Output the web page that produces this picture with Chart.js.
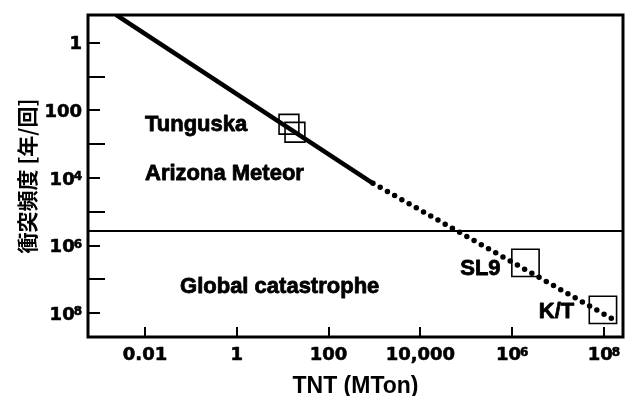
<!DOCTYPE html>
<html>
<head>
<meta charset="utf-8">
<script src="https://cdn.jsdelivr.net/npm/chart.js@4/dist/chart.umd.min.js"></script>
<style>
  body { margin: 0; background: #fff; }
  #wrap { width: 630px; height: 396px; }
</style>
</head>
<body>
<div id="wrap"><canvas id="impactChart" width="630" height="396"></canvas></div>
<script>
// Axis ticks (TNT in MTon, impact interval in years); '^' marks a superscript
const xTickValues = [0.01, 1, 100, 1e4, 1e6, 1e8];
const xTickLabels = ['0.01', '1', '100', '10,000', '10^6', '10^8'];
const yTickValues = [1, 100, 1e4, 1e6, 1e8];
const yTickLabels = ['1', '100', '10^4', '10^6', '10^8'];
const yMinorTicks = [10, 1e3, 1e5, 1e7];

// Power-law curve: solid part and dotted extrapolation
const solidX = [0.00234, 927];
const solidY = [0.148, 14350];
const dottedX = [927, 1.9e8];
const dottedY = [14350, 1.76e8];

// Global catastrophe threshold
const thresholdY = 3.7e5;

// Boxed events
const eventX = [13.7, 18.5, 1.95e6, 9.5e7];
const eventY = [257, 443, 3.25e6, 8.0e7];

// Text notes
const noteTexts = ['Tunguska', 'Arizona Meteor', 'Global catastrophe', 'SL9', 'K/T'];
const noteX = [0.01, 0.01, 0.058, 5.6e5, 2.25e7];
const noteY = [231, 6550, 1.51e7, 4.28e6, 8.04e7];
const noteAlign = ['left', 'left', 'left', 'right', 'right'];

const X_MIN = 5.73e-4, X_MAX = 2.6e8;
const Y_MIN = 0.15, Y_MAX = 5.1e8;

const TICK_FONT = '"DejaVu Sans", sans-serif';
const TICK_SIZE = 18;
const SUP_SIZE = 12;

// filled text with a thin outline so it reads as heavy as the scan
function heavyText(ctx, text, x, y) {
    ctx.fillText(text, x, y);
    ctx.strokeText(text, x, y);
}

// draws "10^6" style labels, baseline at y
function drawTickLabel(ctx, label, x, y, align) {
    const parts = label.split('^');
    ctx.font = 'bold ' + TICK_SIZE + 'px ' + TICK_FONT;
    const baseW = ctx.measureText(parts[0]).width;
    let supW = 0;
    if (parts.length > 1) {
        ctx.font = 'bold ' + SUP_SIZE + 'px ' + TICK_FONT;
        supW = ctx.measureText(parts[1]).width - 1;
    }
    const total = baseW + supW;
    let left = x;
    if (align === 'center') left = x - total / 2;
    if (align === 'right') left = x - total;
    ctx.textAlign = 'left';
    ctx.textBaseline = 'alphabetic';
    ctx.font = 'bold ' + TICK_SIZE + 'px ' + TICK_FONT;
    heavyText(ctx, parts[0], left, y);
    if (parts.length > 1) {
        ctx.font = 'bold ' + SUP_SIZE + 'px ' + TICK_FONT;
        heavyText(ctx, parts[1], left + baseW - 1, y - TICK_SIZE * 0.73 + SUP_SIZE * 0.73);
    }
}

// frame, inner tick marks, tick labels and text notes
const decorPlugin = {
    id: 'decor',
    afterDatasetsDraw(chart) {
        const ctx = chart.ctx;
        const area = chart.chartArea;
        const xs = chart.scales.x;
        const ys = chart.scales.y;
        ctx.save();
        ctx.strokeStyle = '#000';
        ctx.fillStyle = '#000';

        // inner tick marks
        ctx.lineWidth = 2;
        ctx.beginPath();
        xTickValues.forEach(v => {
            const px = Math.round(xs.getPixelForValue(v));
            ctx.moveTo(px, area.bottom);
            ctx.lineTo(px, area.bottom - 10);
        });
        yTickValues.forEach(v => {
            const py = Math.round(ys.getPixelForValue(v));
            ctx.moveTo(area.left, py);
            ctx.lineTo(area.left + 12, py);
        });
        yMinorTicks.forEach(v => {
            const py = Math.round(ys.getPixelForValue(v));
            ctx.moveTo(area.left, py);
            ctx.lineTo(area.left + 17, py);
        });
        ctx.stroke();

        // frame
        ctx.lineWidth = 3;
        ctx.strokeRect(area.left, area.top, area.right - area.left, area.bottom - area.top);

        // tick labels
        ctx.lineWidth = 0.6;
        ctx.lineJoin = 'round';
        const capH = TICK_SIZE * 0.73;
        xTickValues.forEach((v, i) => {
            drawTickLabel(ctx, xTickLabels[i], xs.getPixelForValue(v), area.bottom + 10 + capH, 'center');
        });
        yTickValues.forEach((v, i) => {
            drawTickLabel(ctx, yTickLabels[i], area.left - 6, ys.getPixelForValue(v) + capH / 2, 'right');
        });

        // notes
        const size = 22;
        ctx.font = 'bold ' + size + 'px "Liberation Sans", Arial, sans-serif';
        ctx.textBaseline = 'alphabetic';
        ctx.lineWidth = 0.8;
        noteTexts.forEach((t, i) => {
            ctx.textAlign = noteAlign[i];
            const px = xs.getPixelForValue(noteX[i]);
            const py = ys.getPixelForValue(noteY[i]) + size * 0.716 / 2;
            heavyText(ctx, t, px, py);
        });
        ctx.restore();
    }
};

const ctx = document.getElementById('impactChart').getContext('2d');
const impactChart = new Chart(ctx, {
    type: 'line',
    data: {
        datasets: [
            {
                label: 'solid',
                data: solidX.map((x, i) => ({ x: x, y: solidY[i] })),
                borderColor: '#000',
                borderWidth: 4.5,
                pointRadius: 0
            },
            {
                label: 'dotted',
                data: dottedX.map((x, i) => ({ x: x, y: dottedY[i] })),
                borderColor: '#000',
                borderWidth: 5.5,
                borderDash: [0, 8.3],
                borderCapStyle: 'round',
                pointRadius: 0
            },
            {
                label: 'threshold',
                data: [{ x: X_MIN, y: thresholdY }, { x: X_MAX, y: thresholdY }],
                borderColor: '#000',
                borderWidth: 2,
                pointRadius: 0
            },
            {
                label: 'events',
                type: 'scatter',
                data: eventX.map((x, i) => ({ x: x, y: eventY[i] })),
                pointStyle: 'rect',
                pointRadius: c => (c.dataIndex < 2 ? 14 : 19.3),
                borderColor: '#000',
                backgroundColor: 'rgba(0,0,0,0)',
                borderWidth: 1.6
            }
        ]
    },
    options: {
        responsive: false,
        animation: false,
        events: [],
        layout: { autoPadding: false, padding: { left: 0, top: 15, right: 7, bottom: 0 } },
        plugins: {
            legend: { display: false },
            tooltip: { enabled: false }
        },
        scales: {
            x: {
                type: 'logarithmic',
                min: X_MIN,
                max: X_MAX,
                grid: { display: false, drawTicks: false },
                border: { display: false },
                ticks: { display: false },
                afterFit: scale => { scale.height = 59; },
                title: {
                    display: true,
                    text: 'TNT (MTon)',
                    color: '#000',
                    padding: 0,
                    font: { family: '"Liberation Sans", Arial, sans-serif', weight: 'bold', size: 23, lineHeight: 0.8 }
                }
            },
            y: {
                type: 'logarithmic',
                reverse: true,
                min: Y_MIN,
                max: Y_MAX,
                grid: { display: false, drawTicks: false },
                border: { display: false },
                ticks: { display: false },
                afterFit: scale => { scale.width = 88; },
                title: {
                    display: true,
                    text: '衝突頻度 [年/回]',
                    color: '#000',
                    padding: { top: 14, bottom: 0 },
                    font: { family: '"Noto Sans CJK JP", sans-serif', weight: 'bold', size: 21 }
                }
            }
        }
    },
    plugins: [decorPlugin]
});
</script>
</body>
</html>
